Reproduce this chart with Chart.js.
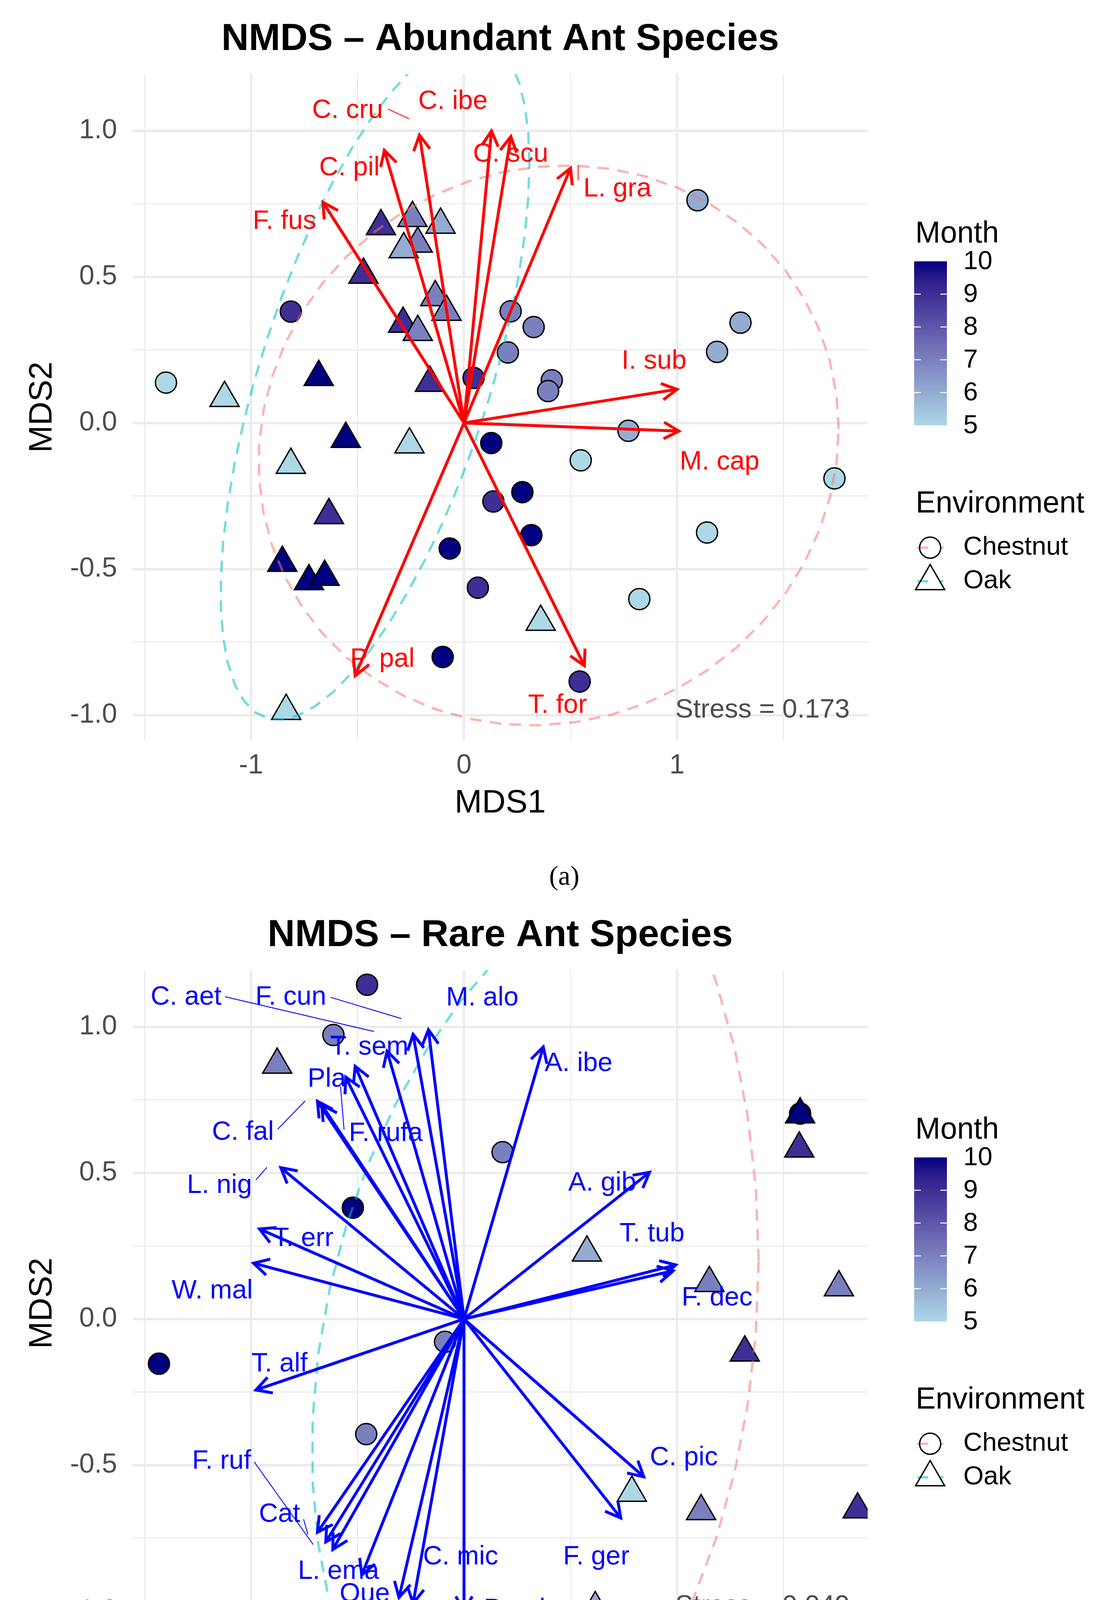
<!DOCTYPE html>
<html>
<head>
<meta charset="utf-8">
<script src="https://cdn.jsdelivr.net/npm/chart.js@4.4.1/dist/chart.umd.min.js"></script>
<style>
  html, body { margin: 0; padding: 0; background: #fff; }
  body { width: 2817px; height: 4614px; position: relative; overflow: hidden; }
  canvas { position: absolute; left: 0; }
</style>
</head>
<body>
<canvas id="abundant" width="2817" height="2294" style="top:0;width:2817px;height:2294px"></canvas>
<canvas id="rare" width="2817" height="2294" style="top:2294px;width:2817px;height:2294px"></canvas>
<script>
// axes, shared by both panels
const xTicks = [-1.5, -1, -0.5, 0, 0.5, 1, 1.5];
const xMajor = [-1, 0, 1];
const xTickLabels = ['-1', '0', '1'];
const yTicks = [-1, -0.75, -0.5, -0.25, 0, 0.25, 0.5, 0.75, 1];
const yMajor = [-1, -0.5, 0, 0.5, 1];
const yTickLabels = ['-1.0', '-0.5', '0.0', '0.5', '1.0'];
const xLimits = [-1.555, 1.895];
const yLimits = [-1.086, 1.194];
const monthTicks = [5, 6, 7, 8, 9, 10];
const envLevels = ['Chestnut', 'Oak'];

// (a) abundant species: sites
const abChestnutX = [-1.399, -0.813, 1.096, 1.298, 1.188, 0.219, 0.327, 0.206, 0.412, 0.395, 0.045, 0.128,
  0.772, 0.548, 1.739, 0.138, 0.274, 0.316, 1.141, -0.067, 0.065, 0.823, -0.100, 0.543];
const abChestnutY = [0.138, 0.381, 0.762, 0.343, 0.243, 0.382, 0.328, 0.241, 0.146, 0.109, 0.154, -0.069,
  -0.027, -0.128, -0.190, -0.269, -0.237, -0.384, -0.375, -0.430, -0.564, -0.603, -0.801, -0.885];
const abChestnutMonth = [5, 9, 6, 6, 6, 7, 7, 7, 7, 7, 9, 10, 6, 5, 5, 9, 10, 10, 5, 10, 9, 5, 10, 9];
const abOakX = [-1.124, -0.682, -0.160, -0.555, -0.256, -0.813, -0.634, -0.853, -0.728, -0.654, -0.835,
  -0.390, -0.242, -0.110, -0.217, -0.283, -0.472, -0.135, -0.082, -0.286, -0.217, 0.360];
const abOakY = [0.085, 0.157, 0.137, -0.055, -0.074, -0.144, -0.316, -0.479, -0.542, -0.527, -0.986,
  0.673, 0.701, 0.678, 0.613, 0.594, 0.507, 0.430, 0.380, 0.339, 0.311, -0.681];
const abOakMonth = [5, 10, 9, 10, 5, 5, 9, 10, 10, 10, 5, 9, 7, 6, 7, 6, 9, 7, 7, 9, 7, 5];

// (a) species vectors
const abSpecies = ['F. fus', 'C. pil', 'C. cru', 'C. ibe', 'C. scu', 'L. gra', 'I. sub', 'M. cap', 'T. for', 'P. pal'];
const abArrowX = [-0.662, -0.374, -0.209, 0.129, 0.220, 0.500, 1.000, 1.009, 0.565, -0.511];
const abArrowY = [0.755, 0.933, 0.985, 0.999, 0.980, 0.872, 0.115, -0.028, -0.831, -0.865];
const abLabelX = [-0.843, -0.538, -0.547, -0.052, 0.219, 0.720, 0.892, 1.200, 0.439, -0.383];
const abLabelY = [0.689, 0.872, 1.069, 1.100, 0.919, 0.800, 0.211, -0.135, -0.968, -0.810];
const abLeaderX1 = [-0.357, 0.536];
const abLeaderY1 = [1.074, 0.882];
const abLeaderX2 = [-0.258, 0.536];
const abLeaderY2 = [1.041, 0.830];
const abStress = 0.173;

// (b) rare species: sites
const rrChestnutX = [-0.455, -0.613, 0.181, -0.522, -1.432, -0.089, -0.459, -0.618, 1.578];
const rrChestnutY = [1.144, 0.972, 0.571, 0.381, -0.153, -0.078, -0.394, -1.068, 0.703];
const rrChestnutMonth = [9, 7, 7, 10, 10, 7, 7, 7, 10];
const rrOakX = [-0.877, 0.577, 1.152, 1.760, 1.578, 1.574, 1.318, 0.788, 1.113, 1.848, 0.616];
const rrOakY = [0.870, 0.227, 0.123, 0.108, 0.700, 0.583, -0.115, -0.595, -0.658, -0.652, -0.990];
const rrOakMonth = [7, 6, 7, 7, 10, 9, 9, 5, 7, 9, 6];

// (b) group ellipses (stacked sites hide part of the data):
// centre, x half-width, and the two y terms of the Cholesky form [Chestnut, Oak]
const rrEllCentreX = [-0.300, 1.050];
const rrEllCentreY = [0.213, -0.135];
const rrEllHalfX = [1.683, 1.764];
const rrEllSkew = [-0.013, 0.315];
const rrEllHalfY = [2.017, 1.773];

// (b) species vectors
const rrSpecies = ['M. alo', 'F. cun', 'C. aet', 'T. sem', 'Pla', 'F. rufa', 'C. fal', 'L. nig', 'T. err', 'W. mal',
  'A. ibe', 'A. gib', 'T. tub', 'F. dec', 'T. alf', 'C. pic', 'F. ger', 'F. ruf', 'Cat', 'L. ema',
  'Que', 'P. nas', 'C. mic', 'P. sch'];
const rrArrowX = [-0.167, -0.239, -0.361, -0.511, -0.555, -0.688, -0.668, -0.860, -0.960, -0.988,
  0.372, 0.871, 0.994, 0.982, -0.977, 0.844, 0.736, -0.688, -0.649, -0.616,
  -0.305, -0.239, -0.480, 0.000];
const rrArrowY = [0.990, 0.974, 0.917, 0.865, 0.828, 0.745, 0.733, 0.518, 0.308, 0.191,
  0.931, 0.502, 0.185, 0.165, -0.243, -0.540, -0.681, -0.730, -0.763, -0.789,
  -0.953, -0.973, -0.876, -1.001];
const rrLabelX = [0.086, -0.813, -1.305, -0.444, -0.644, -0.367, -1.038, -1.148, -0.755, -1.182,
  0.538, 0.649, 0.883, 1.188, -0.866, 1.032, 0.621, -1.138, -0.866, -0.589,
  -0.466, -0.383, -0.016, 0.258];
const rrLabelY = [1.098, 1.101, 1.101, 0.929, 0.820, 0.634, 0.638, 0.456, 0.274, 0.096,
  0.873, 0.464, 0.290, 0.071, -0.155, -0.475, -0.815, -0.487, -0.669, -0.864,
  -0.942, -1.001, -0.815, -0.995];
const rrLeaderX1 = [-1.122, -0.627, -0.627, -0.563, -0.874, -0.977, -0.985, -0.753];
const rrLeaderY1 = [1.103, 1.101, 0.968, 0.648, 0.650, 0.476, -0.489, -0.685];
const rrLeaderX2 = [-0.423, -0.294, -0.561, -0.580, -0.746, -0.925, -0.708, -0.733];
const rrLeaderY2 = [0.984, 1.028, 0.968, 0.796, 0.746, 0.519, -0.772, -0.737];
const rrStress = 0.049;

const FONT = '"Liberation Sans", Arial, sans-serif';
const ELL_COLOURS = ['rgba(248,118,109,0.55)', 'rgba(0,191,196,0.55)'];

// ---- fill gradient lightblue -> navy, interpolated in CIELAB like ggplot ----
function lin(c) { c /= 255; return c <= 0.04045 ? c / 12.92 : Math.pow((c + 0.055) / 1.055, 2.4); }
function gam(v) {
  v = v <= 0.0031308 ? 12.92 * v : 1.055 * Math.pow(v, 1 / 2.4) - 0.055;
  return Math.round(Math.max(0, Math.min(1, v)) * 255);
}
function toLab(hex) {
  const r = lin(parseInt(hex.slice(1, 3), 16)), g = lin(parseInt(hex.slice(3, 5), 16)), b = lin(parseInt(hex.slice(5, 7), 16));
  const X = (0.4124564 * r + 0.3575761 * g + 0.1804375 * b) / 0.95047;
  const Y = 0.2126729 * r + 0.7151522 * g + 0.0721750 * b;
  const Z = (0.0193339 * r + 0.1191920 * g + 0.9503041 * b) / 1.08883;
  const f = t => t > 216 / 24389 ? Math.cbrt(t) : t / (3 * (6 / 29) ** 2) + 4 / 29;
  return [116 * f(Y) - 16, 500 * (f(X) - f(Y)), 200 * (f(Y) - f(Z))];
}
function fromLab([L, a, b]) {
  const fy = (L + 16) / 116, fx = fy + a / 500, fz = fy - b / 200;
  const fi = t => t > 6 / 29 ? t * t * t : 3 * (6 / 29) ** 2 * (t - 4 / 29);
  const X = fi(fx) * 0.95047, Y = fi(fy), Z = fi(fz) * 1.08883;
  const r = 3.2404542 * X - 1.5371385 * Y - 0.4985314 * Z;
  const g = -0.9692660 * X + 1.8760108 * Y + 0.0415560 * Z;
  const bl = 0.0556434 * X - 0.2040259 * Y + 1.0572252 * Z;
  return `rgb(${gam(r)},${gam(g)},${gam(bl)})`;
}
const lowLab = toLab('#ADD8E6'), highLab = toLab('#000080');
function monthColour(m) {
  const t = (m - monthTicks[0]) / (monthTicks[monthTicks.length - 1] - monthTicks[0]);
  return fromLab(lowLab.map((v, i) => v + (highLab[i] - v) * t));
}

// ---- stat_ellipse: robust t covariance (MASS::cov.trob) + F-quantile radius ----
function covTrob(xs, ys) {
  const n = xs.length, nu = 5, p = 2;
  let lx = xs.reduce((a, b) => a + b, 0) / n, ly = ys.reduce((a, b) => a + b, 0) / n;
  let w = new Array(n).fill(1), dx, dy;
  for (let it = 0; it < 25; it++) {
    const w0 = w.slice();
    dx = xs.map(v => v - lx); dy = ys.map(v => v - ly);
    const sw = w.reduce((a, b) => a + b, 0);
    let sxx = 0, sxy = 0, syy = 0;
    for (let i = 0; i < n; i++) { sxx += w[i] * dx[i] * dx[i]; sxy += w[i] * dx[i] * dy[i]; syy += w[i] * dy[i] * dy[i]; }
    sxx /= sw; sxy /= sw; syy /= sw;
    const det = sxx * syy - sxy * sxy;
    w = dx.map((u, i) => (nu + p) / (nu + (syy * u * u - 2 * sxy * u * dy[i] + sxx * dy[i] * dy[i]) / det));
    const sw2 = w.reduce((a, b) => a + b, 0);
    lx = w.reduce((a, wi, i) => a + wi * xs[i], 0) / sw2;
    ly = w.reduce((a, wi, i) => a + wi * ys[i], 0) / sw2;
    if (w.every((wi, i) => Math.abs(wi - w0[i]) < 0.01)) break;
  }
  let cxx = 0, cxy = 0, cyy = 0;
  for (let i = 0; i < n; i++) { cxx += w[i] * dx[i] * dx[i]; cxy += w[i] * dx[i] * dy[i]; cyy += w[i] * dy[i] * dy[i]; }
  return { center: [lx, ly], cov: [cxx / n, cxy / n, cyy / n] };
}
function fitEllipse(xs, ys) {
  const { center, cov } = covTrob(xs, ys);
  const dfd = xs.length - 1;
  const radius = Math.sqrt(2 * (dfd / 2) * (Math.pow(0.05, -2 / dfd) - 1));
  const r11 = Math.sqrt(cov[0]), r12 = cov[1] / r11, r22 = Math.sqrt(cov[2] - r12 * r12);
  return { cx: center[0], cy: center[1], hx: radius * r11, skew: radius * r12, hy: radius * r22 };
}
function ellipsePath(e) {
  const out = [];
  for (let k = 0; k <= 51; k++) {
    const t = k * 2 * Math.PI / 51, c = Math.cos(t), s = Math.sin(t);
    out.push({ x: e.cx + e.hx * c, y: e.cy + e.skew * c + e.hy * s });
  }
  return out;
}

const pts = (xs, ys) => xs.map((v, i) => ({ x: v, y: ys[i] }));

// titles, vector heads and labels, stress, legends, caption
function decor(d) {
  return {
    id: 'decor',
    afterDatasetsDraw(chart) {
      const { ctx, chartArea: ca, scales: { x, y } } = chart;
      const x0 = x.getPixelForValue(0), y0 = y.getPixelForValue(0);
      ctx.save();
      ctx.beginPath(); ctx.rect(ca.left, ca.top, ca.right - ca.left, ca.bottom - ca.top); ctx.clip();
      ctx.strokeStyle = d.colour; ctx.lineWidth = 7.5; ctx.lineJoin = 'miter'; ctx.lineCap = 'butt';
      d.arrowX.forEach((ax, i) => {
        const px = x.getPixelForValue(ax), py = y.getPixelForValue(d.arrowY[i]);
        const ang = Math.atan2(py - y0, px - x0), L = 44, h = Math.PI / 6.3;
        ctx.beginPath();
        ctx.moveTo(px - L * Math.cos(ang - h), py - L * Math.sin(ang - h));
        ctx.lineTo(px, py);
        ctx.lineTo(px - L * Math.cos(ang + h), py - L * Math.sin(ang + h));
        ctx.stroke();
      });
      ctx.restore();
      ctx.save();
      ctx.fillStyle = d.colour; ctx.font = `68px ${FONT}`;
      ctx.textAlign = 'center'; ctx.textBaseline = 'middle';
      d.species.forEach((s, i) => ctx.fillText(s, x.getPixelForValue(d.labelX[i]), y.getPixelForValue(d.labelY[i])));
      ctx.restore();
    },
    afterDraw(chart) {
      const { ctx, chartArea: ca } = chart;
      ctx.save();
      ctx.fillStyle = '#000'; ctx.textAlign = 'center'; ctx.textBaseline = 'alphabetic';
      ctx.font = `bold 97px ${FONT}`;
      ctx.fillText(d.title, (ca.left + ca.right) / 2, 128);
      ctx.fillStyle = '#4D4D4D'; ctx.font = `69px ${FONT}`;
      ctx.textAlign = 'right'; ctx.textBaseline = 'middle';
      ctx.fillText('Stress = ' + d.stress.toFixed(3), ca.right - 46, ca.bottom - 77);

      // Month colourbar
      ctx.fillStyle = '#000'; ctx.textAlign = 'left'; ctx.textBaseline = 'alphabetic';
      ctx.font = `77px ${FONT}`;
      ctx.fillText('Month', 2344, 621);
      const bx = 2341, bw = 84, by = 669, bh = 420;
      const lo = monthTicks[0], hi = monthTicks[monthTicks.length - 1];
      const grad = ctx.createLinearGradient(0, by + bh, 0, by);
      for (let k = 0; k <= 20; k++) grad.addColorStop(k / 20, monthColour(lo + (hi - lo) * k / 20));
      ctx.fillStyle = grad; ctx.fillRect(bx, by, bw, bh);
      ctx.strokeStyle = '#fff'; ctx.lineWidth = 2.5;
      ctx.font = `67px ${FONT}`; ctx.textBaseline = 'middle'; ctx.fillStyle = '#000';
      monthTicks.forEach(m => {
        const ty = by + bh - (m - lo) / (hi - lo) * bh;
        if (m > lo && m < hi) {
          ctx.beginPath();
          ctx.moveTo(bx, ty); ctx.lineTo(bx + 17, ty);
          ctx.moveTo(bx + bw - 17, ty); ctx.lineTo(bx + bw, ty);
          ctx.stroke();
        }
        ctx.fillText(String(m), 2467, ty + 2);
      });

      // Environment keys
      ctx.textBaseline = 'alphabetic'; ctx.font = `77px ${FONT}`;
      ctx.fillText('Environment', 2345, 1312);
      const keyY = [1402, 1488];
      envLevels.forEach((lab, i) => {
        ctx.save();
        ctx.strokeStyle = ELL_COLOURS[i]; ctx.lineWidth = 6; ctx.setLineDash([28, 31]);
        ctx.beginPath(); ctx.moveTo(2349, keyY[i]); ctx.lineTo(2416, keyY[i]); ctx.stroke();
        ctx.restore();
        ctx.strokeStyle = '#000'; ctx.lineWidth = 3.5; ctx.beginPath();
        if (i === 0) {
          ctx.arc(2382, keyY[i], 27, 0, 2 * Math.PI);
        } else {
          const r = 43;
          ctx.moveTo(2382, keyY[i] - r);
          ctx.lineTo(2382 + r * Math.sin(2 * Math.PI / 3), keyY[i] + r / 2);
          ctx.lineTo(2382 - r * Math.sin(2 * Math.PI / 3), keyY[i] + r / 2);
          ctx.closePath();
        }
        ctx.stroke();
        ctx.font = `67px ${FONT}`; ctx.textBaseline = 'middle';
        ctx.fillText(lab, 2467, keyY[i]);
      });

      ctx.font = '70px "Liberation Serif", "Times New Roman", serif';
      ctx.textAlign = 'center'; ctx.textBaseline = 'alphabetic';
      ctx.fillText(d.caption, 1445, d.captionY);
      ctx.restore();
    }
  };
}

function buildPanel(id, d) {
  const datasets = [];
  d.arrowX.forEach((ax, i) => datasets.push({
    label: d.species[i], data: [{ x: 0, y: 0 }, { x: ax, y: d.arrowY[i] }],
    showLine: true, borderColor: d.colour, borderWidth: 7.5, pointRadius: 0, order: 1,
  }));
  d.leaderX1.forEach((lx, i) => datasets.push({
    label: 'leader', data: [{ x: lx, y: d.leaderY1[i] }, { x: d.leaderX2[i], y: d.leaderY2[i] }],
    showLine: true, borderColor: d.colour, borderWidth: 2.2, pointRadius: 0, order: 1,
  }));
  d.ellipses.forEach((e, i) => datasets.push({
    label: envLevels[i] + ' ellipse', data: ellipsePath(e), showLine: true,
    borderColor: ELL_COLOURS[i], borderWidth: 6, borderDash: [30, 21], pointRadius: 0, order: 2,
  }));
  datasets.push({
    label: 'Oak', data: pts(d.oakX, d.oakY), pointStyle: 'triangle', pointRadius: 43,
    pointBackgroundColor: d.oakMonth.map(monthColour), pointBorderColor: '#000', pointBorderWidth: 3.5, order: 3,
  });
  datasets.push({
    label: 'Chestnut', data: pts(d.chestnutX, d.chestnutY), pointStyle: 'circle', pointRadius: 27,
    pointBackgroundColor: d.chestnutMonth.map(monthColour), pointBorderColor: '#000', pointBorderWidth: 3.5, order: 4,
  });

  const gridWidth = major => c => (c.tick && major.includes(c.tick.value)) ? 6 : 3;
  return new Chart(document.getElementById(id), {
    type: 'scatter',
    data: { datasets },
    options: {
      responsive: false, animation: false, devicePixelRatio: 1, events: [],
      layout: { padding: { top: 189.5, right: 595, bottom: 0, left: 0 } },
      scales: {
        x: {
          type: 'linear', position: 'bottom', min: xLimits[0], max: xLimits[1],
          afterBuildTicks: s => { s.ticks = xTicks.map(v => ({ value: v })); },
          afterFit: s => { s.height = 399; },
          grid: { color: '#EBEBEB', lineWidth: gridWidth(xMajor), drawTicks: false },
          border: { display: false },
          ticks: {
            padding: 24, color: '#4D4D4D', font: { family: FONT, size: 70 }, maxRotation: 0, autoSkip: false,
            callback: v => { const k = xMajor.indexOf(v); return k < 0 ? '' : xTickLabels[k]; },
          },
          title: { display: true, text: 'MDS1', color: '#000', font: { family: FONT, size: 84 }, padding: { top: 0, bottom: 187 } },
        },
        y: {
          type: 'linear', position: 'left', min: yLimits[0], max: yLimits[1],
          afterBuildTicks: s => { s.ticks = yTicks.map(v => ({ value: v })); },
          afterFit: s => { s.width = 340; },
          grid: { color: '#EBEBEB', lineWidth: gridWidth(yMajor), drawTicks: false },
          border: { display: false },
          ticks: {
            padding: 40, color: '#4D4D4D', font: { family: FONT, size: 70 }, autoSkip: false,
            callback: v => { const k = yMajor.indexOf(v); return k < 0 ? '' : yTickLabels[k]; },
          },
          title: { display: true, text: 'MDS2', color: '#000', font: { family: FONT, size: 84 }, padding: { top: 58, bottom: 0 } },
        },
      },
      plugins: { legend: { display: false }, tooltip: { enabled: false } },
    },
    plugins: [decor(d)],
  });
}

buildPanel('abundant', {
  title: 'NMDS \u2013 Abundant Ant Species', caption: '(a)', captionY: 2265, colour: '#FF0000', stress: abStress,
  chestnutX: abChestnutX, chestnutY: abChestnutY, chestnutMonth: abChestnutMonth,
  oakX: abOakX, oakY: abOakY, oakMonth: abOakMonth,
  ellipses: [fitEllipse(abChestnutX, abChestnutY), fitEllipse(abOakX, abOakY)],
  species: abSpecies, arrowX: abArrowX, arrowY: abArrowY, labelX: abLabelX, labelY: abLabelY,
  leaderX1: abLeaderX1, leaderY1: abLeaderY1, leaderX2: abLeaderX2, leaderY2: abLeaderY2,
});
buildPanel('rare', {
  title: 'NMDS \u2013 Rare Ant Species', caption: '(b)', captionY: 2252, colour: '#0000FF', stress: rrStress,
  chestnutX: rrChestnutX, chestnutY: rrChestnutY, chestnutMonth: rrChestnutMonth,
  oakX: rrOakX, oakY: rrOakY, oakMonth: rrOakMonth,
  ellipses: rrEllCentreX.map((cx, i) => ({ cx, cy: rrEllCentreY[i], hx: rrEllHalfX[i], skew: rrEllSkew[i], hy: rrEllHalfY[i] })),
  species: rrSpecies, arrowX: rrArrowX, arrowY: rrArrowY, labelX: rrLabelX, labelY: rrLabelY,
  leaderX1: rrLeaderX1, leaderY1: rrLeaderY1, leaderX2: rrLeaderX2, leaderY2: rrLeaderY2,
});
</script>
</body>
</html>
